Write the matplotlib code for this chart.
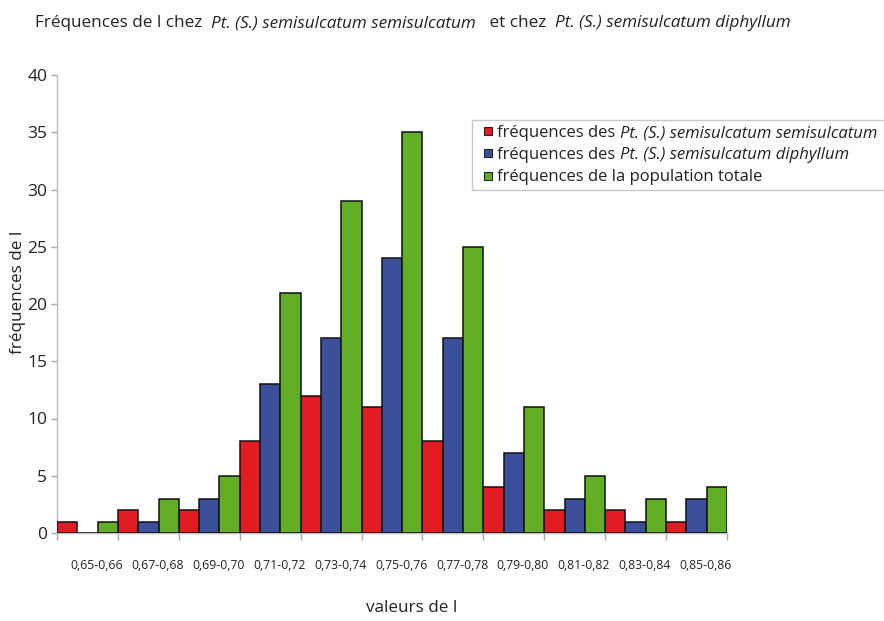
import matplotlib
matplotlib.use('Agg')
import matplotlib.pyplot as plt
import numpy as np
from matplotlib.lines import Line2D
from matplotlib.text import Annotation
from matplotlib.ticker import FixedLocator

classes = ['0,65-0,66', '0,67-0,68', '0,69-0,70', '0,71-0,72', '0,73-0,74', '0,75-0,76',
           '0,77-0,78', '0,79-0,80', '0,81-0,82', '0,83-0,84', '0,85-0,86']
freq_semisulcatum = [1, 2, 2, 8, 12, 11, 8, 4, 2, 2, 1]
freq_diphyllum = [0, 1, 3, 13, 17, 24, 17, 7, 3, 1, 3]
freq_totale = [1, 3, 5, 21, 29, 35, 25, 11, 5, 3, 4]
y_ticks = [0, 5, 10, 15, 20, 25, 30, 35, 40]

# legend labels: (regular part, italic part)
series_labels = [
    ('fréquences des ', 'Pt. (S.) semisulcatum semisulcatum'),
    ('fréquences des ', 'Pt. (S.) semisulcatum diphyllum'),
    ('fréquences de la population totale', ''),
]
colors = ['#E31B23', '#3C4F9B', '#62AE25']

FONT = 'Open Sans'
plt.rcParams['font.family'] = [FONT, 'DejaVu Sans']
TXT = '#222222'

fig = plt.figure(figsize=(8.84, 6.21), dpi=100)
W, H = 884, 621
ax = fig.add_axes([57 / W, 88 / H, 670 / W, 458 / H])

n = len(classes)
x = np.arange(n)
w = 1 / 3
for k, (vals, c) in enumerate(zip([freq_semisulcatum, freq_diphyllum, freq_totale], colors)):
    ax.bar(x + k * w, vals, w, align='edge', color=c, edgecolor='#111111', linewidth=1.1, zorder=3)

ax.set_xlim(0, n)
ax.set_ylim(0, 40)
ax.set_yticks(y_ticks)
ax.set_yticklabels([str(v) for v in y_ticks], fontsize=12.5, color=TXT)
ax.set_xticks(np.arange(n + 1))
ax.set_xticklabels([])
ax.xaxis.set_minor_locator(FixedLocator(x + 0.5 + 0.15))
ax.set_xticklabels(classes, minor=True, fontsize=8.8, color=TXT)
ax.tick_params(axis='x', which='minor', length=0, pad=19)
ax.tick_params(axis='x', which='major', length=5, color='#AAAAAA', width=1)
ax.tick_params(axis='y', length=4, color='#AAAAAA', width=1, pad=3)

for s in ['top', 'right']:
    ax.spines[s].set_visible(False)
for s in ['left', 'bottom']:
    ax.spines[s].set_color('#BBBBBB')
    ax.spines[s].set_linewidth(1)

fig.text(18 / W, 1 - 292 / H, 'fréquences de l', rotation=90, ha='center', va='center',
         fontsize=12.3, color=TXT)
fig.text(412 / W, 1 - 608 / H, 'valeurs de l', ha='center', va='center',
         fontsize=12.3, color=TXT)

# Title in mixed styles, each piece chained to the end of the previous one
TFS = 12.3
pieces = [('Fréquences de l chez  ', 'normal'),
          ('Pt. (S.) semisulcatum semisulcatum', 'italic'),
          ('   et chez  ', 'normal'),
          ('Pt. (S.) semisulcatum diphyllum', 'italic')]
prev = fig.text(35 / W, 1 - 27 / H, pieces[0][0], fontsize=TFS, ha='left', va='baseline',
                color=TXT)
for txt, st in pieces[1:]:
    ann = Annotation(txt, xy=(1, 0), xycoords=prev, xytext=(0, 0), textcoords='offset points',
                     fontsize=TFS, style=st, ha='left', va='bottom', color=TXT,
                     annotation_clip=False)
    ann.set_zorder(10)
    fig.add_artist(ann)
    prev = ann

handles = [Line2D([], [], linestyle='none', marker='s', markersize=5.2, markerfacecolor=c,
                  markeredgecolor='#222222', markeredgewidth=0.8) for c in colors]
LFS = 12
leg = fig.legend(handles, [a for a, b in series_labels], loc='upper left',
                 bbox_to_anchor=(472 / W, 1 - 120 / H - 0.01, 430 / W, 0.01), mode='expand',
                 borderaxespad=0, frameon=True, fancybox=False, edgecolor='#BBBBBB',
                 fontsize=LFS, handlelength=1.3, handletextpad=-0.1, numpoints=1,
                 labelspacing=0.37, borderpad=0.3)
leg.get_frame().set_linewidth(1)
leg.set_zorder(5)
for t, (a, b) in zip(leg.get_texts(), series_labels):
    t.set_color(TXT)
    if b:
        ann = Annotation(b, xy=(1, 0), xycoords=t, xytext=(0, 0), textcoords='offset points',
                         fontsize=LFS, style='italic', ha='left', va='bottom', color=TXT,
                         annotation_clip=False)
        ann.set_zorder(20)
        fig.add_artist(ann)

fig.savefig('out.png', dpi=100)
